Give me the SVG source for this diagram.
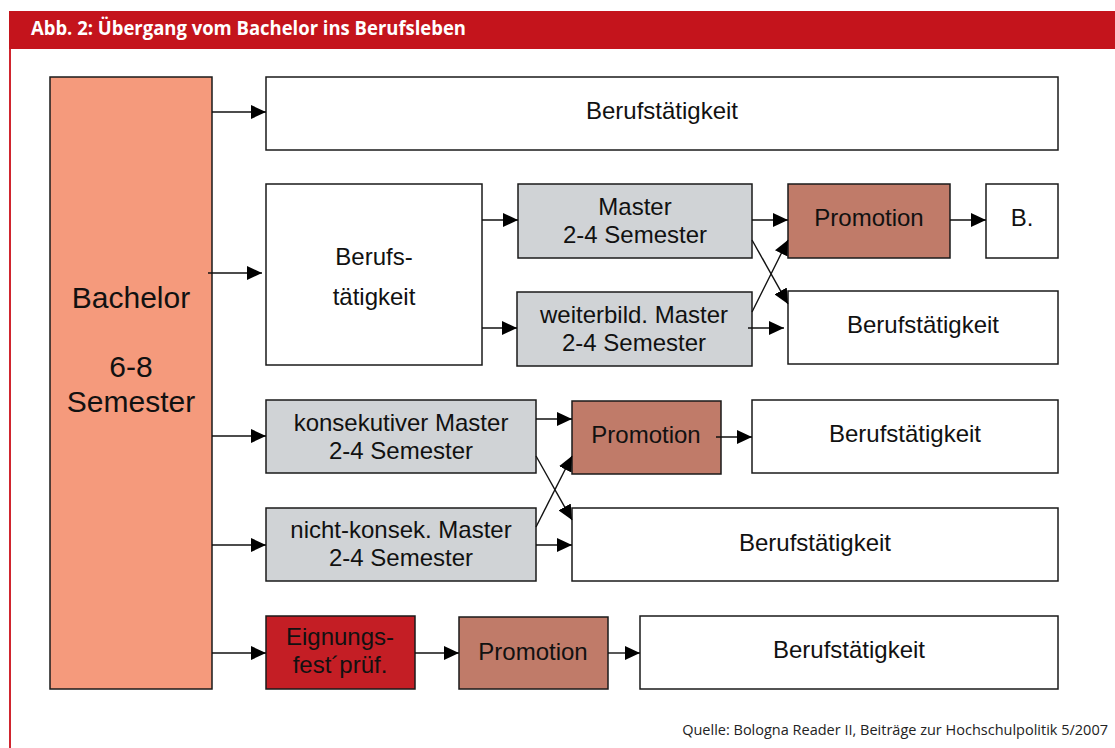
<svg xmlns="http://www.w3.org/2000/svg" width="1115" height="748" viewBox="0 0 1115 748">
<style>
.box{stroke:#1a1a1a;stroke-width:1.5}
.w{fill:#ffffff}
.g{fill:#d0d3d6}
.p{fill:#c07b69}
.t{font-family:"Liberation Sans",Arial,sans-serif;font-size:24px;fill:#111;text-anchor:middle}
.c line{stroke:#111;stroke-width:1.4;marker-end:url(#ah)}
</style>
<defs>
<marker id="ah" markerUnits="userSpaceOnUse" markerWidth="16" markerHeight="14" refX="15" refY="7" orient="auto">
<path d="M0,0 L15,7 L0,14 Z" fill="#000"/>
</marker>
</defs>
<rect width="1115" height="748" fill="#fff"/>
<g id="header">
<rect x="9" y="11" width="1106" height="38" fill="#c4141c"/>
<text x="31" y="35" font-family="'Open Sans','Noto Sans',sans-serif" font-weight="bold" font-size="19" fill="#fff" textLength="435" lengthAdjust="spacingAndGlyphs">Abb. 2: Übergang vom Bachelor ins Berufsleben</text>
<rect x="9" y="49" width="2" height="699" fill="#d0252e"/>
</g>
<g id="bachelor">
<rect class="box" x="50" y="77" width="162" height="612" fill="#f59a7c"/>
<text class="t" style="font-size:30px" x="131" y="308">Bachelor</text>
<text class="t" style="font-size:30px" x="131" y="377">6-8</text>
<text class="t" style="font-size:30px" x="131" y="412">Semester</text>
</g>
<g id="beruf1"><rect class="box w" x="266" y="77" width="792" height="73"/><text class="t" x="662" y="119">Berufstätigkeit</text></g>
<g id="beruf2"><rect class="box w" x="266" y="184" width="216" height="181"/><text class="t" x="374" y="265">Berufs-</text><text class="t" x="374" y="305">tätigkeit</text></g>
<g id="master"><rect class="box g" x="518" y="184" width="234" height="74"/><text class="t" x="635" y="215">Master</text><text class="t" x="635" y="243">2-4 Semester</text></g>
<g id="wmaster"><rect class="box g" x="517" y="292" width="235" height="74"/><text class="t" x="634" y="323">weiterbild. Master</text><text class="t" x="634" y="351">2-4 Semester</text></g>
<g id="promo1"><rect class="box p" x="788" y="184" width="162" height="74"/><text class="t" x="869" y="226">Promotion</text></g>
<g id="b"><rect class="box w" x="986" y="184" width="72" height="74"/><text class="t" x="1022" y="226">B.</text></g>
<g id="beruf3"><rect class="box w" x="788" y="291" width="270" height="73"/><text class="t" x="923" y="333">Berufstätigkeit</text></g>
<g id="kmaster"><rect class="box g" x="266" y="400" width="270" height="73"/><text class="t" x="401" y="431">konsekutiver Master</text><text class="t" x="401" y="459">2-4 Semester</text></g>
<g id="promo2"><rect class="box p" x="572" y="401" width="149" height="73"/><text class="t" x="646" y="443">Promotion</text></g>
<g id="beruf4"><rect class="box w" x="752" y="400" width="306" height="73"/><text class="t" x="905" y="442">Berufstätigkeit</text></g>
<g id="nmaster"><rect class="box g" x="266" y="508" width="270" height="73"/><text class="t" x="401" y="538">nicht-konsek. Master</text><text class="t" x="401" y="566">2-4 Semester</text></g>
<g id="beruf5"><rect class="box w" x="572" y="508" width="486" height="73"/><text class="t" x="815" y="551">Berufstätigkeit</text></g>
<g id="eignung"><rect class="box" x="266" y="616" width="149" height="73" fill="#c41e25"/><text class="t" x="340" y="645">Eignungs-</text><text class="t" x="340" y="673">fest´prüf.</text></g>
<g id="promo3"><rect class="box p" x="459" y="617" width="149" height="72"/><text class="t" x="533" y="660">Promotion</text></g>
<g id="beruf6"><rect class="box w" x="640" y="616" width="418" height="73"/><text class="t" x="849" y="658">Berufstätigkeit</text></g>
<g id="connectors" class="c">
<line x1="212" y1="112" x2="266" y2="112"/>
<line x1="208" y1="273" x2="262" y2="273"/>
<line x1="212" y1="436" x2="266" y2="436"/>
<line x1="212" y1="545" x2="266" y2="545"/>
<line x1="212" y1="653" x2="266" y2="653"/>
<line x1="482" y1="220" x2="518" y2="220"/>
<line x1="482" y1="328" x2="517" y2="328"/>
<line x1="752" y1="220" x2="788" y2="220"/>
<line x1="950" y1="220" x2="986" y2="220"/>
<line x1="752" y1="240" x2="788" y2="304"/>
<line x1="752" y1="312" x2="788" y2="240"/>
<line x1="748" y1="328" x2="784" y2="328"/>
<line x1="536" y1="419" x2="572" y2="419"/>
<line x1="536" y1="456" x2="572" y2="520"/>
<line x1="536" y1="527" x2="572" y2="456"/>
<line x1="536" y1="545" x2="572" y2="545"/>
<line x1="716" y1="437" x2="752" y2="437"/>
<line x1="415" y1="653" x2="459" y2="653"/>
<line x1="608" y1="653" x2="640" y2="653"/>
</g>
<text x="1108" y="735" text-anchor="end" font-family="'Open Sans','Noto Sans',sans-serif" font-size="14.5" fill="#222">Quelle: Bologna Reader II, Beiträge zur Hochschulpolitik 5/2007</text>
</svg>
